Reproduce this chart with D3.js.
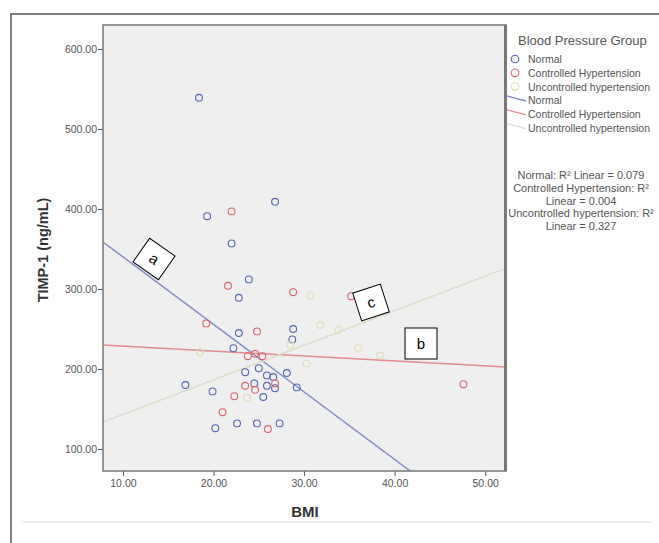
<!DOCTYPE html>
<html>
<head>
<meta charset="utf-8">
<script src="https://cdn.jsdelivr.net/npm/d3@7"></script>
<style>
  body { margin: 0; background: #fff; }
  svg { font-family: "Liberation Sans", Arial, sans-serif; }
  .tick_label { font-size: 10.5px; fill: #555; }
  .legend_text { font-size: 10.5px; fill: #555; }
</style>
</head>
<body>
<svg class="chart"></svg>
<script>
var groups = ['Normal', 'Controlled Hypertension', 'Uncontrolled hypertension']
var group_colors = ['#5565b0', '#d9656b', '#e2dcb8']
var line_colors = ['#8590c8', '#e48a90', '#dedccb']

var normal_bmi = [18.4, 19.3, 26.8, 22.0, 23.9, 22.8, 22.8, 28.8, 28.7, 22.2, 23.5, 25.0, 25.9, 26.6, 28.1, 16.9, 19.9, 24.5, 25.9, 29.2, 25.5, 20.2, 22.6, 24.8, 27.3, 26.8]
var normal_timp = [539, 391, 409, 357, 312, 289, 245, 250, 237, 226, 196, 201, 192, 190, 195, 180, 172, 182, 179, 177, 165, 126, 132, 132, 132, 176]

var controlled_bmi = [22.0, 21.6, 28.8, 19.2, 24.8, 23.8, 25.4, 24.6, 23.5, 26.8, 24.6, 22.3, 21.0, 26.0, 35.2, 47.6]
var controlled_timp = [397, 304, 296, 257, 247, 216, 216, 219, 179, 182, 174, 166, 146, 125, 291, 181]

var uncontrolled_bmi = [30.7, 36.0, 38.4, 30.3, 23.7, 31.8, 28.5, 18.5, 33.8]
var uncontrolled_timp = [292, 226, 217, 207, 164, 255, 230, 221, 249]

// fit lines: intercept and slope per group
var fit_intercept = [424.6, 234.8, 100.1]
var fit_slope = [-8.44, -0.62, 4.32]
var r2_lines = ['Normal: R\u00b2 Linear = 0.079', 'Controlled Hypertension: R\u00b2', 'Linear = 0.004', 'Uncontrolled hypertension: R\u00b2', 'Linear = 0.327']

var x_ticks = [10, 20, 30, 40, 50]
var y_ticks = [100, 200, 300, 400, 500, 600]

var notes = [
    { 'label': 'a', 'cx': 154, 'cy': 259, 'w': 31, 'h': 29, 'rot': 35 },
    { 'label': 'c', 'cx': 371, 'cy': 302.5, 'w': 29, 'h': 29, 'rot': -18 },
    { 'label': 'b', 'cx': 421, 'cy': 343.5, 'w': 32, 'h': 31, 'rot': 0 }
]

var width = 659, height = 543
var plot = { left: 103, right: 506, top: 25, bottom: 471 }

var svg = d3.select('.chart')
    .attr('width', width)
    .attr('height', height)

// outer frame of the figure
svg.append('rect')
    .attr('x', 11).attr('y', 14)
    .attr('width', 700).attr('height', 600)
    .attr('fill', '#fff')
    .attr('stroke', '#555')
    .attr('stroke-width', 1.5)

svg.append('line')
    .attr('x1', 22).attr('x2', 652)
    .attr('y1', 522).attr('y2', 522)
    .attr('stroke', '#f0f0f0')
    .attr('stroke-width', 2)

var x = d3.scaleLinear().domain([7.8, 52.3]).range([plot.left, plot.right])
var y = d3.scaleLinear().domain([72.5, 630]).range([plot.bottom, plot.top])

svg.append('defs').append('clipPath')
    .attr('id', 'plot_clip')
    .append('rect')
    .attr('x', plot.left).attr('y', plot.top)
    .attr('width', plot.right - plot.left)
    .attr('height', plot.bottom - plot.top)

svg.append('rect')
    .attr('x', plot.left).attr('y', plot.top)
    .attr('width', plot.right - plot.left)
    .attr('height', plot.bottom - plot.top)
    .attr('fill', '#efefef')

var x_axis = svg.append('g')
    .attr('transform', 'translate(0,' + plot.bottom + ')')
    .call(d3.axisBottom(x).tickValues(x_ticks).tickFormat(d3.format('.2f')).tickSize(5).tickPadding(4))
var y_axis = svg.append('g')
    .attr('transform', 'translate(' + plot.left + ',0)')
    .call(d3.axisLeft(y).tickValues(y_ticks).tickFormat(d3.format('.2f')).tickSize(5).tickPadding(1))

x_axis.select('.domain').remove()
y_axis.select('.domain').remove()
svg.selectAll('.tick line').attr('stroke', '#555')
svg.selectAll('.tick text').attr('class', 'tick_label').attr('font-family', null).attr('font-size', null)

// fit lines
var lines_g = svg.append('g').attr('clip-path', 'url(#plot_clip)')
lines_g.selectAll('.fit')
    .data(groups)
    .enter().append('line')
    .attr('class', 'fit')
    .attr('x1', x(7.8))
    .attr('x2', x(52.3))
    .attr('y1', (d, i) => y(fit_intercept[i] + fit_slope[i] * 7.8))
    .attr('y2', (d, i) => y(fit_intercept[i] + fit_slope[i] * 52.3))
    .attr('stroke', (d, i) => line_colors[i])
    .attr('stroke-width', 1.5)

// points
var series = [
    [normal_bmi, normal_timp],
    [controlled_bmi, controlled_timp],
    [uncontrolled_bmi, uncontrolled_timp]
]
var points_g = svg.append('g').attr('clip-path', 'url(#plot_clip)')
series.forEach((s, k) => {
    var pts = s[0].map((b, i) => ({ 'bmi': b, 'timp': s[1][i] }))
    points_g.selectAll('.pt' + k)
        .data(pts)
        .enter().append('circle')
        .attr('class', 'pt' + k)
        .attr('cx', (d) => x(d.bmi))
        .attr('cy', (d) => y(d.timp))
        .attr('r', 3.4)
        .attr('fill', 'none')
        .attr('stroke', group_colors[k])
        .attr('stroke-width', 1.1)
})

svg.append('rect')
    .attr('x', plot.left).attr('y', plot.top)
    .attr('width', plot.right - plot.left)
    .attr('height', plot.bottom - plot.top)
    .attr('fill', 'none')
    .attr('stroke', '#777')
    .attr('stroke-width', 1.5)

// axis titles
svg.append('text')
    .text('BMI')
    .attr('x', 305).attr('y', 517)
    .attr('text-anchor', 'middle')
    .attr('font-size', 15).attr('font-weight', 'bold').attr('fill', '#333')
svg.append('text')
    .text('TIMP-1 (ng/mL)')
    .attr('transform', 'translate(48,250) rotate(-90)')
    .attr('text-anchor', 'middle')
    .attr('font-size', 14.5).attr('font-weight', 'bold').attr('fill', '#333')

// legend
var legend = svg.append('g')
legend.append('text')
    .text('Blood Pressure Group')
    .attr('x', 518).attr('y', 45)
    .attr('font-size', 13).attr('fill', '#555')

legend.selectAll('.leg_pt')
    .data(groups)
    .enter().append('circle')
    .attr('class', 'leg_pt')
    .attr('cx', 515)
    .attr('cy', (d, i) => 59 + i * 13.8)
    .attr('r', 3.8)
    .attr('fill', 'none')
    .attr('stroke', (d, i) => group_colors[i])
    .attr('stroke-width', 1.1)

legend.selectAll('.leg_ln')
    .data(groups)
    .enter().append('line')
    .attr('class', 'leg_ln')
    .attr('x1', 507).attr('x2', 526)
    .attr('y1', (d, i) => 96 + i * 13.8)
    .attr('y2', (d, i) => 101 + i * 13.8)
    .attr('stroke', (d, i) => line_colors[i])
    .attr('stroke-width', 1.3)

legend.selectAll('.leg_txt')
    .data(groups.concat(groups))
    .enter().append('text')
    .attr('class', 'legend_text')
    .attr('x', 528)
    .attr('y', (d, i) => 63 + i * 13.8)
    .text((d) => d)

svg.selectAll('.r2')
    .data(r2_lines)
    .enter().append('text')
    .attr('class', 'legend_text r2')
    .attr('x', 581)
    .attr('y', (d, i) => 179 + i * 12.8)
    .attr('text-anchor', 'middle')
    .attr('font-size', 11)
    .style('font-size', '11px')
    .text((d) => d)

// cover the text that runs under the plot border
svg.append('rect')
    .attr('x', plot.right - 2).attr('y', plot.top)
    .attr('width', 3).attr('height', plot.bottom - plot.top)
    .attr('fill', '#777')

// annotation boxes
var note = svg.selectAll('.note')
    .data(notes)
    .enter().append('g')
    .attr('class', 'note')
    .attr('transform', (d) => 'translate(' + d.cx + ',' + d.cy + ') rotate(' + d.rot + ')')
note.append('rect')
    .attr('x', (d) => -d.w / 2)
    .attr('y', (d) => -d.h / 2)
    .attr('width', (d) => d.w)
    .attr('height', (d) => d.h)
    .attr('fill', '#fff')
    .attr('stroke', '#000')
    .attr('stroke-width', 1)
note.append('text')
    .text((d) => d.label)
    .attr('text-anchor', 'middle')
    .attr('y', 5)
    .attr('font-size', 15)
    .attr('fill', '#000')
</script>
</body>
</html>
